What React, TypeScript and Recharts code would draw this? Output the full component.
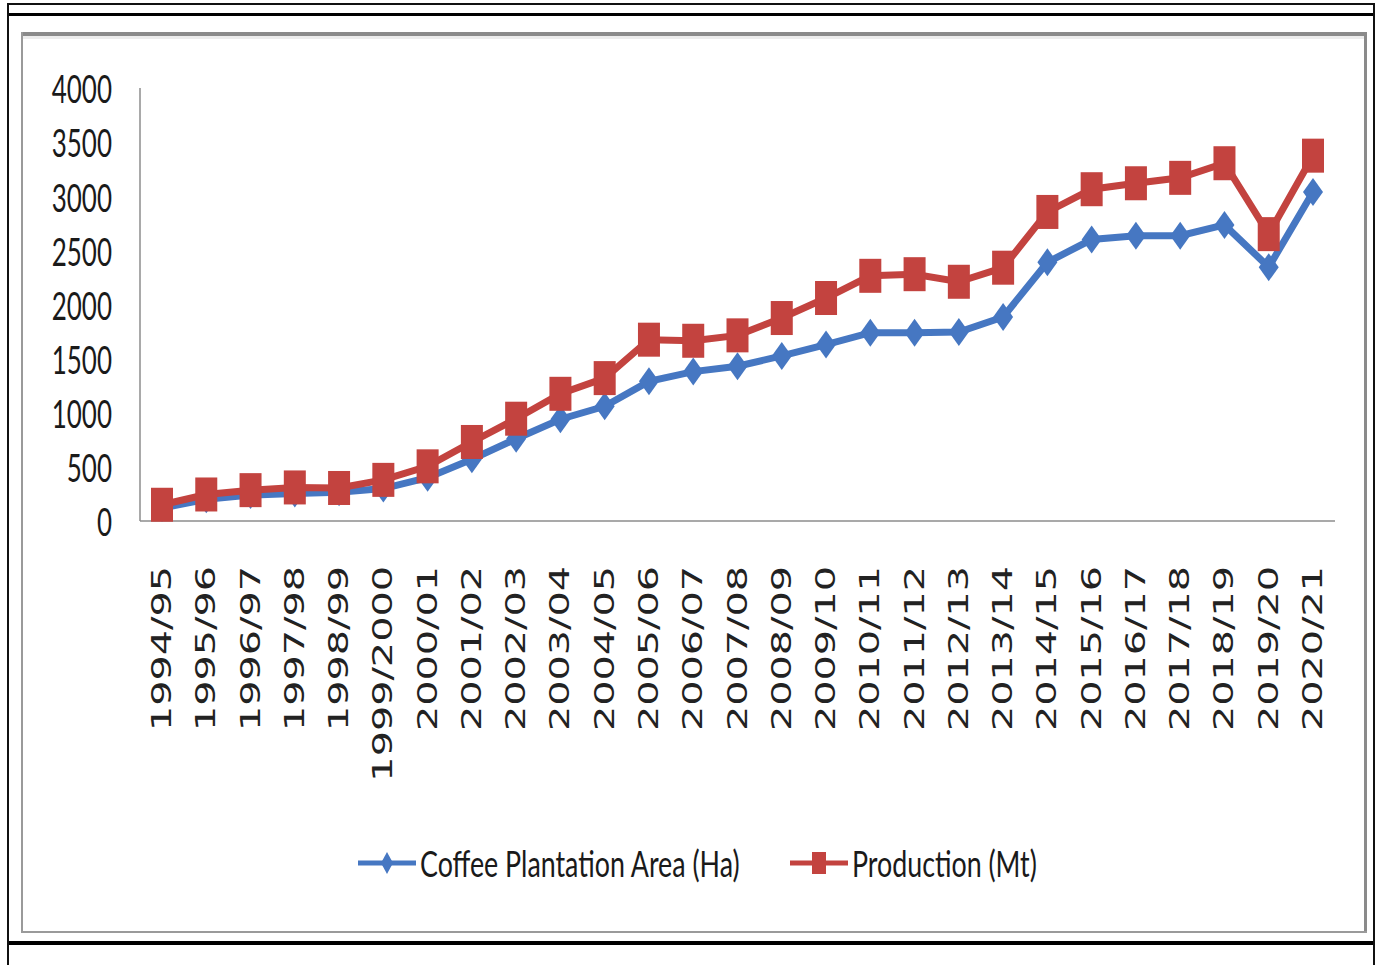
import React from 'react';
import { LineChart, Line, XAxis, YAxis, Legend } from 'recharts';

const seasons = [
  '1994/95', '1995/96', '1996/97', '1997/98', '1998/99', '1999/2000', '2000/01',
  '2001/02', '2002/03', '2003/04', '2004/05', '2005/06', '2006/07', '2007/08',
  '2008/09', '2009/10', '2010/11', '2011/12', '2012/13', '2013/14', '2014/15',
  '2015/16', '2016/17', '2017/18', '2018/19', '2019/20', '2020/21',
];

// Coffee plantation area (Ha)
const area = [
  120, 200, 240, 255, 265, 300, 400, 570, 760, 940, 1060, 1290, 1380, 1430,
  1525, 1630, 1740, 1740, 1745, 1885, 2390, 2600, 2635, 2635, 2735, 2345, 3040,
];

// Production (Mt)
const production = [
  150, 245, 285, 310, 305, 380, 505, 730, 945, 1175, 1320, 1675, 1665, 1715,
  1875, 2060, 2265, 2280, 2210, 2340, 2855, 3065, 3120, 3170, 3305, 2650, 3375,
];

const yTicks = [0, 500, 1000, 1500, 2000, 2500, 3000, 3500, 4000];

const data = seasons.map((season, i) => ({
  season,
  area: area[i],
  production: production[i],
}));

const BLUE = '#4677c2';
const RED = '#c3433f';
const AXIS = '#8c8c8c';
// the whole figure is stretched vertically
const STRETCH = 1.5;

const Diamond = (props: any) => {
  const { cx, cy, index } = props;
  if (cx == null || cy == null) return <g key={index} />;
  return (
    <polygon
      key={index}
      points={`${cx},${cy - 14} ${cx + 10},${cy} ${cx},${cy + 14} ${cx - 10},${cy}`}
      fill={BLUE}
    />
  );
};

const Square = (props: any) => {
  const { cx, cy, index } = props;
  if (cx == null || cy == null) return <g key={index} />;
  return <rect key={index} x={cx - 11} y={cy - 17} width={22} height={34} fill={RED} />;
};

const YTick = (props: any) => {
  const { x, y, payload } = props;
  return (
    <text
      transform={`translate(${x}, ${y}) scale(1, ${STRETCH})`}
      textAnchor="end"
      dominantBaseline="central"
      fontFamily="Lato"
      fontSize={26}
      fill="#1a1a1a"
    >
      {payload.value}
    </text>
  );
};

const XTick = (props: any) => {
  const { x, y, payload } = props;
  return (
    <text
      transform={`translate(${x}, ${y}) scale(1, ${STRETCH}) rotate(-90)`}
      textAnchor="end"
      dominantBaseline="central"
      fontFamily="DejaVu Sans"
      fontSize={26.5}
      fill="#222"
    >
      {payload.value}
    </text>
  );
};

const legendStarts = [18, 450];

const renderLegend = (props: any) => {
  const { payload } = props;
  return (
    <svg width={720} height={70}>
      {payload.map((entry: any, i: number) => {
        const x0 = legendStarts[i];
        const cy = 35;
        const mx = x0 + 29;
        return (
          <g key={entry.value}>
            <line x1={x0} y1={cy} x2={x0 + 58} y2={cy} stroke={entry.color} strokeWidth={5} />
            {i === 0 ? (
              <polygon
                points={`${mx},${cy - 11} ${mx + 6},${cy} ${mx},${cy + 11} ${mx - 6},${cy}`}
                fill={entry.color}
              />
            ) : (
              <rect x={mx - 7} y={cy - 11} width={14} height={22} fill={entry.color} />
            )}
            <text
              transform={`translate(${x0 + 62}, ${cy}) scale(1, 1.4)`}
              dominantBaseline="central"
              fontFamily="Lato"
              fontSize={26.8}
              fill="#1a1a1a"
            >
              {entry.value}
            </text>
          </g>
        );
      })}
    </svg>
  );
};

const box = (style: React.CSSProperties): React.CSSProperties => ({ position: 'absolute', ...style });

export default function App() {
  return (
    <div style={{ position: 'absolute', top: 0, left: 0, width: 1379, height: 965, background: '#fff', overflow: 'hidden' }}>
      {/* outer black frame */}
      <div style={box({ left: 7, top: 3, width: 1368, height: 2, background: '#111' })} />
      <div style={box({ left: 7, top: 13, width: 1368, height: 3, background: '#000' })} />
      <div style={box({ left: 7, top: 941, width: 1368, height: 4, background: '#000' })} />
      <div style={box({ left: 7, top: 3, width: 2, height: 962, background: '#111' })} />
      <div style={box({ left: 1373, top: 3, width: 2, height: 962, background: '#111' })} />
      {/* gray chart border */}
      <div style={box({ left: 21, top: 32, width: 1346, height: 4, background: '#8a8a8a' })} />
      <div style={box({ left: 23, top: 36, width: 1341, height: 3, background: '#ececec' })} />
      <div style={box({ left: 21, top: 32, width: 2, height: 901, background: '#9a9a9a' })} />
      <div style={box({ left: 1364, top: 32, width: 3, height: 901, background: '#8a8a8a' })} />
      <div style={box({ left: 21, top: 931, width: 1346, height: 2, background: '#9a9a9a' })} />

      <div style={box({ left: 0, top: 0 })}>
        <LineChart
          width={1379}
          height={965}
          data={data}
          margin={{ top: 88, right: 44, left: 0, bottom: 184 }}
        >
          <XAxis
            dataKey="season"
            interval={0}
            height={260}
            axisLine={{ stroke: AXIS, strokeWidth: 1.5 }}
            tickLine={false}
            tickSize={0}
            tickMargin={45}
            padding={{ left: 22, right: 22 }}
            tick={<XTick />}
          />
          <YAxis
            width={140}
            domain={[0, 4000]}
            ticks={yTicks}
            interval={0}
            axisLine={{ stroke: AXIS, strokeWidth: 1.5 }}
            tickLine={false}
            tickSize={0}
            tickMargin={28}
            tick={<YTick />}
          />
          <Legend
            layout="horizontal"
            verticalAlign="middle"
            align="center"
            wrapperStyle={{ position: 'absolute', top: 828, left: 340, width: 720 }}
            content={renderLegend}
          />
          <Line
            type="linear"
            dataKey="area"
            name="Coffee Plantation Area (Ha)"
            stroke={BLUE}
            strokeWidth={7}
            dot={Diamond}
            activeDot={false}
            isAnimationActive={false}
          />
          <Line
            type="linear"
            dataKey="production"
            name="Production (Mt)"
            stroke={RED}
            strokeWidth={7}
            dot={Square}
            activeDot={false}
            isAnimationActive={false}
          />
        </LineChart>
      </div>
    </div>
  );
}
